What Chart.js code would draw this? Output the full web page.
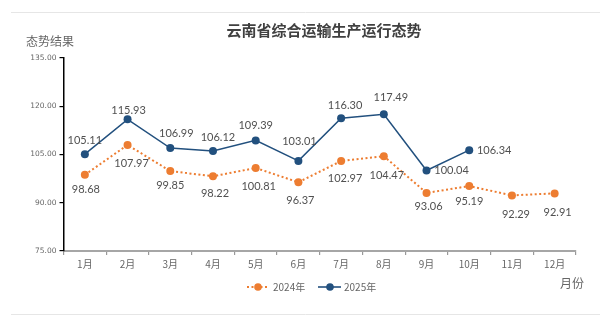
<!DOCTYPE html>
<html>
<head>
<meta charset="utf-8">
<script src="https://cdn.jsdelivr.net/npm/chart.js@4/dist/chart.umd.min.js"></script>
<style>
  html, body { margin: 0; padding: 0; background: #ffffff; }
  #c { display: block; }
</style>
</head>
<body>
<canvas id="c" width="610" height="322"></canvas>
<script>
// ---- data ----
const categories = ["1月","2月","3月","4月","5月","6月","7月","8月","9月","10月","11月","12月"];
const values2024 = [98.68, 107.97, 99.85, 98.22, 100.81, 96.37, 102.97, 104.47, 93.06, 95.19, 92.29, 92.91];
const values2025 = [105.11, 115.93, 106.99, 106.12, 109.39, 103.01, 116.30, 117.49, 100.04, 106.34, null, null];
const yTicks = [75, 90, 105, 120, 135];
const seriesNames = ["2024年", "2025年"];
const chartTitle = "云南省综合运输生产运行态势";
const yAxisName = "态势结果";
const xAxisName = "月份";

// ---- label placement (offsets from each point, px) ----
const labelOffsets2024 = [[1,15],[4,19],[0,14],[2,17],[3,18],[2,18],[4,17],[3,19],[2,14],[0,15],[4,19],[3,19]];
const labelOffsets2025 = [[0,-14],[1,-9],[6,-15],[5,-13],[0,-15],[1,-19],[4,-13],[7,-17],[25,0],[25,0],[0,0],[0,0]];

const COLOR_2024 = "#ED7D31";
const COLOR_2025 = "#22507E";
const TEXT = "#666666";

const decorPlugin = {
  id: "decor",
  beforeDraw(chart) {
    const ctx = chart.ctx;
    ctx.save();
    ctx.strokeStyle = "#e6e6e6";
    ctx.lineWidth = 1;
    ctx.beginPath();
    ctx.moveTo(11, 12.5); ctx.lineTo(600, 12.5);
    ctx.moveTo(11, 314.5); ctx.lineTo(600, 314.5);
    ctx.stroke();
    ctx.restore();
  },
  afterDraw(chart) {
    const ctx = chart.ctx;
    ctx.save();
    // title
    ctx.fillStyle = "#404040";
    ctx.font = "bold 15px 'Noto Sans CJK SC', sans-serif";
    ctx.textAlign = "center";
    ctx.textBaseline = "middle";
    ctx.fillText(chartTitle, 324, 30);
    // axis names
    ctx.fillStyle = TEXT;
    ctx.font = "12px 'Noto Sans CJK SC', sans-serif";
    ctx.fillText(yAxisName, 50, 41);
    ctx.fillText(xAxisName, 572, 283);
    // legend
    const ly = 287;
    ctx.lineWidth = 2;
    ctx.strokeStyle = COLOR_2024;
    ctx.setLineDash([2, 2.5]);
    ctx.beginPath(); ctx.moveTo(247, ly); ctx.lineTo(268, ly); ctx.stroke();
    ctx.setLineDash([]);
    ctx.fillStyle = COLOR_2024;
    ctx.beginPath(); ctx.arc(258, ly, 3.8, 0, Math.PI * 2); ctx.fill();
    ctx.strokeStyle = COLOR_2025;
    ctx.lineWidth = 1.6;
    ctx.beginPath(); ctx.moveTo(318, ly); ctx.lineTo(341, ly); ctx.stroke();
    ctx.fillStyle = COLOR_2025;
    ctx.beginPath(); ctx.arc(330, ly, 3.8, 0, Math.PI * 2); ctx.fill();
    ctx.fillStyle = TEXT;
    ctx.font = "10px 'Noto Sans CJK SC', sans-serif";
    ctx.textAlign = "left";
    ctx.fillText(seriesNames[0], 273, ly);
    ctx.fillText(seriesNames[1], 344, ly);
    ctx.restore();
  },
  afterDatasetsDraw(chart) {
    const ctx = chart.ctx;
    ctx.save();
    ctx.font = "11px Lato, sans-serif";
    ctx.fillStyle = "#505050";
    ctx.textAlign = "center";
    ctx.textBaseline = "middle";
    const offs = [labelOffsets2024, labelOffsets2025];
    chart.data.datasets.forEach((ds, di) => {
      const meta = chart.getDatasetMeta(di);
      meta.data.forEach((pt, i) => {
        const v = ds.data[i];
        if (v === null || v === undefined) return;
        const o = offs[di][i];
        ctx.fillText(v.toFixed(2), pt.x + o[0], pt.y + o[1]);
      });
    });
    ctx.restore();
  }
};

new Chart(document.getElementById("c"), {
  type: "line",
  data: {
    labels: categories,
    datasets: [
      {
        label: seriesNames[0],
        data: values2024,
        borderColor: COLOR_2024,
        backgroundColor: COLOR_2024,
        borderWidth: 2,
        borderDash: [2, 2.5],
        pointRadius: 4,
        pointHoverRadius: 4,
        pointBorderWidth: 0,
        tension: 0
      },
      {
        label: seriesNames[1],
        data: values2025,
        borderColor: COLOR_2025,
        backgroundColor: COLOR_2025,
        borderWidth: 1.5,
        pointRadius: 4,
        pointHoverRadius: 4,
        pointBorderWidth: 0,
        tension: 0,
        spanGaps: false
      }
    ]
  },
  options: {
    responsive: false,
    devicePixelRatio: 1,
    animation: false,
    layout: { padding: { top: 58, left: 0, right: 34, bottom: 0 } },
    plugins: {
      legend: { display: false },
      title: { display: false },
      tooltip: { enabled: false }
    },
    scales: {
      x: {
        offset: true,
        afterFit(s) { s.height = 71; },
        grid: {
          offset: true,
          drawOnChartArea: false,
          drawTicks: true,
          tickLength: 4,
          color: "#999999",
          lineWidth: 1.2
        },
        border: { color: "#a6a6a6", width: 2 },
        ticks: {
          color: "#666666",
          padding: 3,
          font: { family: "'Noto Sans CJK SC', sans-serif", size: 10 },
          maxRotation: 0,
          autoSkip: false
        }
      },
      y: {
        min: 75,
        max: 135,
        afterFit(s) { s.width = 63.5; },
        afterBuildTicks(s) { s.ticks = yTicks.map(v => ({ value: v })); },
        grid: {
          drawOnChartArea: false,
          drawTicks: true,
          tickLength: 4,
          color: "#000000",
          lineWidth: 1.2
        },
        border: { color: "#000000", width: 1.5 },
        ticks: {
          color: "#666666",
          padding: 3,
          font: { family: "'DejaVu Sans', sans-serif", size: 7.5 },
          callback: v => Number(v).toFixed(2)
        }
      }
    }
  },
  plugins: [decorPlugin]
});
</script>
</body>
</html>
